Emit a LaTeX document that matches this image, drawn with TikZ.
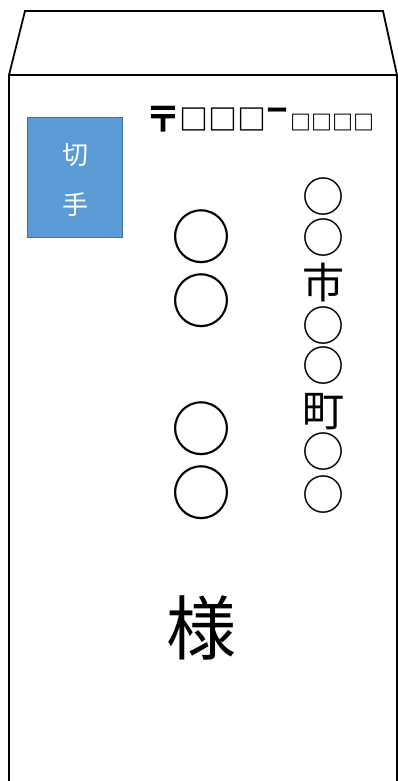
\documentclass[tikz,border=0pt]{standalone}
\usepackage{fontspec}
\newfontfamily\jp{Noto Sans CJK JP}
\definecolor{stampfill}{HTML}{5B9BD5}
\definecolor{stampline}{HTML}{41719C}
\tikzset{
  envline/.style={line width=1.8pt, line join=miter},
  glyph/.style={inner sep=0pt, outer sep=0pt, font=\jp},
}
\begin{document}
\begin{tikzpicture}[x=1pt,y=-1pt]
\useasboundingbox (0,0) rectangle (398,781);
\fill[white] (0,0) rectangle (398,781);
% envelope
\coordinate (bl) at (9,783);
\coordinate (fl) at (9,75);
\coordinate (tl) at (25,11);
\coordinate (tr) at (383,11);
\coordinate (fr) at (397,75);
\coordinate (br) at (397,783);
\draw[envline] (bl) -- (fl) -- (tl) -- (tr) -- (fr) -- (br);
\draw[envline] (fl) -- (fr);
% stamp
\node[draw=stampline, fill=stampfill, line width=1.6pt, minimum width=95pt, minimum height=120pt, inner sep=0pt] (stamp) at (75,177.5) {};
\node[glyph, text=white, font=\jp\fontsize{26}{26}\selectfont] (kit) at (75,155) {切};
\node[glyph, text=white, font=\jp\fontsize{26}{26}\selectfont] (te) at (75,205) {手};
% postal code
\node[glyph, font=\jp\bfseries\fontsize{36}{36}\selectfont] (yubin) at (163,119) {〒};
\node[glyph, anchor=base west, font=\jp\bfseries\fontsize{29}{29}\selectfont] (zip) at (179,130.5) {□□□};
\node[glyph, font=\jp\bfseries\fontsize{22}{22}\selectfont] (dash) at (277.5,113) {ー};
\node[glyph, anchor=base west, font=\jp\bfseries\fontsize{21}{21}\selectfont] (zip2) at (290,130.5) {□□□□};
% name column
\foreach \y [count=\i] in {237,301,429,493}
  \node[glyph, font=\jp\fontsize{60}{60}\selectfont] (n\i) at (201,\y) {○};
% address column
\foreach \c/\y [count=\i] in {○/196.5,○/238,市/282,○/326,○/366,町/412,○/452,○/495}
  \node[glyph, font=\jp\fontsize{42}{42}\selectfont] (a\i) at (323.5,\y) {\c};
% honorific
\node[glyph, font=\jp\fontsize{70}{70}\selectfont] (sama) at (201,628) {様};
\end{tikzpicture}
\end{document}
